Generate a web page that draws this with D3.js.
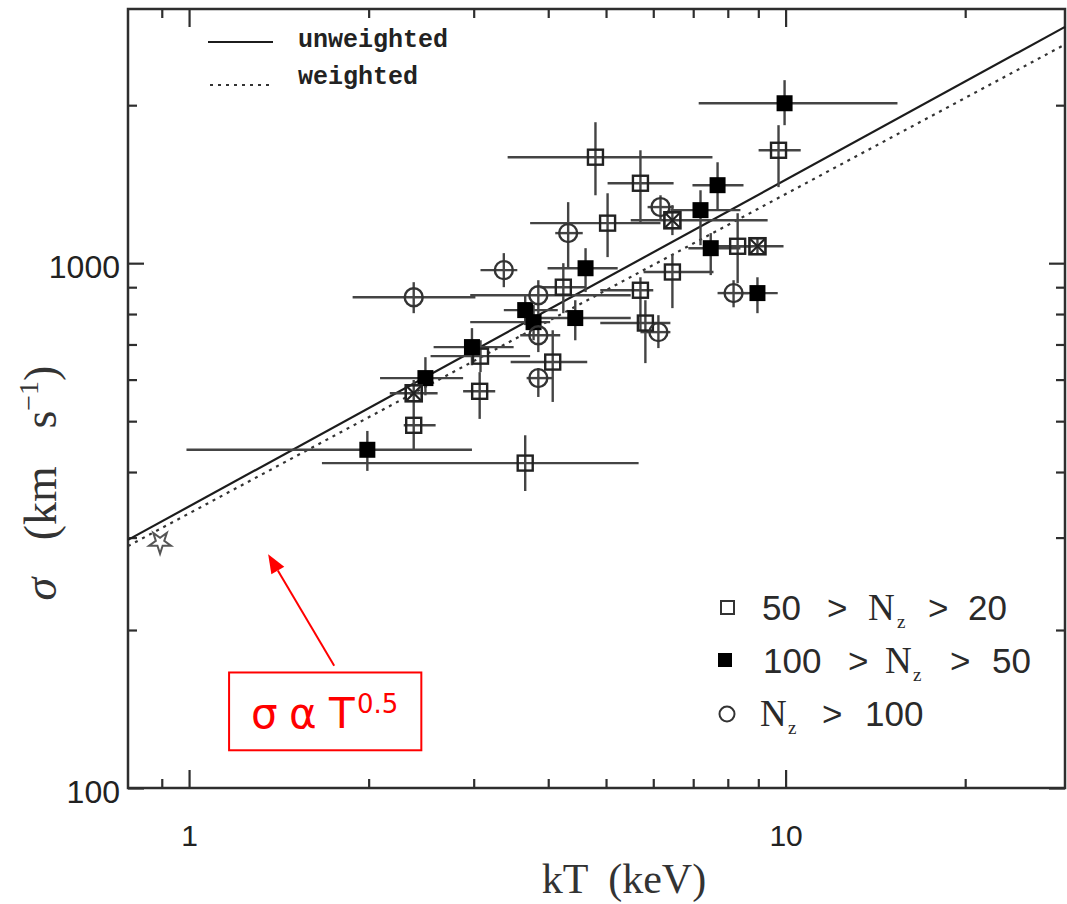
<!DOCTYPE html>
<html>
<head>
<meta charset="utf-8">
<script src="https://cdn.jsdelivr.net/npm/d3@7"></script>
<style>
  html, body { margin: 0; padding: 0; background: #fff; }
  svg { display: block; }
</style>
</head>
<body>
<svg id="chart" width="1067" height="904"></svg>
<script>
// Each row: [kT, kT low, kT high, sigma, sigma low, sigma high]  (keV, km/s)
const groupLow = [          // 50 > Nz > 20  (open squares)
  [4.80, 3.42, 7.54, 1592, 1347, 1856],
  [5.71, 5.03, 6.49, 1420, 1192, 1641],
  [5.03, 3.73, 6.17, 1192, 1027, 1359],
  [9.73, 9.01, 10.6, 1641, 1396, 1832],
  [6.46, 5.78, 7.57, 962, 821, 1040],
  [8.31, 7.63, 8.80, 1077, 916, 1245],
  [5.71, 4.89, 6.00, 888, 745, 940],
  [5.82, 4.89, 6.41, 769, 645, 850],
  [4.24, 3.88, 4.62, 900, 803, 1000],
  [3.08, 2.54, 3.73, 665, 620, 713],
  [3.07, 2.88, 3.26, 570, 505, 620],
  [2.38, 2.29, 2.59, 491, 439, 532],
  [3.66, 1.67, 5.67, 416, 368, 470],
  [4.07, 3.46, 4.65, 648, 544, 745]
];
const groupMid = [          // 100 > Nz > 50  (filled squares)
  [9.96, 7.15, 15.4, 2017, 1832, 2232],
  [7.49, 6.87, 8.40, 1068, 949, 1141],
  [7.69, 6.98, 8.50, 1408, 1262, 1557],
  [7.20, 6.41, 8.40, 1262, 1082, 1377],
  [8.97, 8.40, 9.70, 877, 803, 940],
  [4.62, 3.99, 5.23, 978, 881, 1068],
  [3.66, 3.37, 4.15, 814, 762, 869],
  [3.78, 2.96, 4.03, 772, 713, 832],
  [4.44, 3.88, 5.50, 786, 713, 850],
  [2.98, 2.57, 3.50, 692, 639, 752],
  [2.49, 2.09, 2.88, 604, 560, 662],
  [1.99, 0.99, 2.98, 441, 402, 479]
];
const groupHigh = [         // Nz > 100  (open circles)
  [6.17, 5.87, 6.49, 1279, 1207, 1347],
  [8.18, 7.69, 8.67, 877, 824, 928],
  [6.12, 5.71, 6.41, 739, 689, 796],
  [4.32, 4.11, 4.57, 1141, 983, 1307],
  [3.37, 3.08, 3.55, 970, 900, 1045],
  [2.38, 1.88, 3.02, 861, 803, 920],
  [3.85, 2.96, 5.50, 869, 779, 928],
  [3.85, 3.59, 4.19, 729, 677, 786],
  [3.85, 3.68, 4.07, 604, 556, 631]
];
const groupCrossed = [      // crossed squares
  [8.97, 8.25, 9.92, 1077, 1040, 1116],
  [6.46, 5.50, 9.33, 1207, 1131, 1290],
  [2.38, 2.17, 2.61, 565, 532, 599]
];
const starPoint = [[0.894, 294]];

// Fitted relations, given by their end points across the panel
const unweightedFit = [[0.79, 297], [29.4, 2820]];
const weightedFit   = [[0.79, 289], [29.4, 2610]];

// Axis ticks
const xMajorTicks = [1, 10];
const xMinorTicks = [0.9, 2, 3, 4, 5, 6, 7, 8, 9, 20];
const yMajorTicks = [100, 1000];
const yMinorTicks = [200, 300, 400, 500, 600, 700, 800, 900, 2000];

// Annotation (arrow tail, arrow tip, box corners) in data units
const noteArrow = [[1.751, 171], [1.357, 279]];
const noteBox = [[1.167, 166], [2.451, 118]];

const legendRows = [
  { label: ["50", ">", "N", "z", ">", "20"] },
  { label: ["100", ">", "N", "z", ">", "50"] },
  { label: ["N", "z", ">", "100"] }
];

// ---------------------------------------------------------------
const svg = d3.select("#chart");
const L = 128, R = 1065, T = 9, B = 788;
const x = d3.scaleLog().domain([0.79, 29.4]).range([L, R]);
const y = d3.scaleLog().domain([100, 3050]).range([B, T]);
const ink = "#2e2e2e";
const serif = "'Liberation Serif', 'DejaVu Serif', serif";
const sans = "'Liberation Sans', Arial, sans-serif";

// axes with inward ticks
function styleAxis(g) {
  g.select(".domain").remove();
  g.attr("color", ink);
  g.selectAll("line").attr("stroke-width", 2.2);
}
svg.append("g").attr("transform", `translate(0,${B})`)
  .call(d3.axisBottom(x).tickValues(xMajorTicks).tickSize(-18).tickPadding(37).tickFormat(d3.format("d")))
  .call(styleAxis)
  .call(g => g.selectAll("text").attr("font-size", 30).attr("font-family", sans).attr("fill", "#222"));
svg.append("g").attr("transform", `translate(0,${B})`)
  .call(d3.axisBottom(x).tickValues(xMinorTicks).tickSize(-9).tickFormat(""))
  .call(styleAxis);
svg.append("g").attr("transform", `translate(0,${T})`)
  .call(d3.axisTop(x).tickValues(xMajorTicks).tickSize(-18).tickFormat(""))
  .call(styleAxis);
svg.append("g").attr("transform", `translate(0,${T})`)
  .call(d3.axisTop(x).tickValues(xMinorTicks).tickSize(-9).tickFormat(""))
  .call(styleAxis);
svg.append("g").attr("transform", `translate(${L},0)`)
  .call(d3.axisLeft(y).tickValues(yMajorTicks).tickSize(-16).tickPadding(8).tickFormat(d3.format("d")))
  .call(styleAxis)
  .call(g => g.selectAll("text").attr("font-size", 32).attr("font-family", sans).attr("fill", "#222").attr("dy", "0.45em"));
svg.append("g").attr("transform", `translate(${L},0)`)
  .call(d3.axisLeft(y).tickValues(yMinorTicks).tickSize(-9).tickFormat(""))
  .call(styleAxis);
svg.append("g").attr("transform", `translate(${R},0)`)
  .call(d3.axisRight(y).tickValues(yMajorTicks).tickSize(-16).tickFormat(""))
  .call(styleAxis);
svg.append("g").attr("transform", `translate(${R},0)`)
  .call(d3.axisRight(y).tickValues(yMinorTicks).tickSize(-9).tickFormat(""))
  .call(styleAxis);

// frame
svg.append("rect").attr("x", L).attr("y", T).attr("width", R - L).attr("height", B - T)
  .attr("fill", "none").attr("stroke", ink).attr("stroke-width", 2.5);

// axis titles
svg.append("text").attr("x", 624).attr("y", 893).attr("text-anchor", "middle")
  .attr("font-family", serif).attr("font-size", 42).attr("fill", "#333")
  .attr("word-spacing", 10).text("kT (keV)");
const yt = svg.append("text").attr("transform", "translate(56,483) rotate(-90)")
  .attr("text-anchor", "middle").attr("font-family", serif).attr("font-size", 46)
  .attr("fill", "#333").attr("word-spacing", 26);
yt.append("tspan").attr("font-style", "italic").text("σ");
yt.append("tspan").text(" (km s");
yt.append("tspan").attr("font-size", 28).attr("dy", -18).text("−1");
yt.append("tspan").attr("dy", 18).text(")");

// fit lines
const line = d3.line().x(d => x(d[0])).y(d => y(d[1]));
svg.append("path").attr("d", line(unweightedFit)).attr("fill", "none")
  .attr("stroke", "#1c1c1c").attr("stroke-width", 2.2);
svg.append("path").attr("d", line(weightedFit)).attr("fill", "none")
  .attr("stroke", "#333").attr("stroke-width", 2.2).attr("stroke-dasharray", "3,5");

// error bars
const allGroups = [groupLow, groupMid, groupHigh, groupCrossed];
const bars = svg.append("g").attr("stroke", "#444").attr("stroke-width", 2.4);
allGroups.forEach(group => {
  group.forEach(d => {
    bars.append("line").attr("x1", x(d[1])).attr("x2", x(d[2])).attr("y1", y(d[3])).attr("y2", y(d[3]));
    bars.append("line").attr("x1", x(d[0])).attr("x2", x(d[0])).attr("y1", y(d[4])).attr("y2", y(d[5]));
  });
});

// markers
const mk = svg.append("g");
const sq = 15;
mk.selectAll(".open-sq").data(groupLow).join("rect")
  .attr("x", d => x(d[0]) - sq / 2).attr("y", d => y(d[3]) - sq / 2)
  .attr("width", sq).attr("height", sq)
  .attr("fill", "none").attr("stroke", "#222").attr("stroke-width", 2.4);
mk.selectAll(".fill-sq").data(groupMid).join("rect")
  .attr("x", d => x(d[0]) - 8).attr("y", d => y(d[3]) - 8)
  .attr("width", 16).attr("height", 16).attr("fill", "#000");
mk.selectAll(".open-ci").data(groupHigh).join("circle")
  .attr("cx", d => x(d[0])).attr("cy", d => y(d[3])).attr("r", 9)
  .attr("fill", "none").attr("stroke", "#333").attr("stroke-width", 2.4);
const crossed = mk.selectAll(".cross-sq").data(groupCrossed).join("g")
  .attr("transform", d => `translate(${x(d[0])},${y(d[3])})`);
crossed.append("rect").attr("x", -8).attr("y", -8).attr("width", 16).attr("height", 16)
  .attr("fill", "none").attr("stroke", "#222").attr("stroke-width", 2.6);
crossed.append("path").attr("d", "M-8,-8L8,8M8,-8L-8,8")
  .attr("stroke", "#222").attr("stroke-width", 2.2);
mk.selectAll(".star").data(starPoint).join("path")
  .attr("transform", d => `translate(${x(d[0])},${y(d[1])}) rotate(180)`)
  .attr("d", d3.symbol(d3.symbolStar, 150)())
  .attr("fill", "none").attr("stroke", "#555").attr("stroke-width", 2);

// top-left legend (fit lines)
const lg = svg.append("g");
lg.append("line").attr("x1", 208).attr("x2", 273).attr("y1", 42).attr("y2", 42)
  .attr("stroke", "#1c1c1c").attr("stroke-width", 2.2);
lg.append("line").attr("x1", 210).attr("x2", 273).attr("y1", 85).attr("y2", 85)
  .attr("stroke", "#333").attr("stroke-width", 2.2).attr("stroke-dasharray", "3,5");
lg.append("text").attr("x", 298).attr("y", 47).attr("font-family", "'Liberation Mono', 'DejaVu Sans Mono', monospace")
  .attr("font-weight", "bold").attr("font-size", 25).attr("fill", "#222").text("unweighted");
lg.append("text").attr("x", 298).attr("y", 84).attr("font-family", "'Liberation Mono', 'DejaVu Sans Mono', monospace")
  .attr("font-weight", "bold").attr("font-size", 25).attr("fill", "#222").text("weighted");

// bottom-right legend (richness classes)
const rowY = [620, 673, 726];
const rowX = [
  [762, 827, 868, 897, 928, 968],
  [763, 848, 885, 913, 950, 992],
  [760, 788, 822, 865]
];
const lg2 = svg.append("g");
lg2.append("rect").attr("x", 721).attr("y", rowY[0] - 19).attr("width", 13).attr("height", 13)
  .attr("fill", "none").attr("stroke", "#333").attr("stroke-width", 2);
lg2.append("rect").attr("x", 718).attr("y", rowY[1] - 20).attr("width", 14).attr("height", 14)
  .attr("fill", "#000");
lg2.append("circle").attr("cx", 727).attr("cy", rowY[2] - 12).attr("r", 7.5)
  .attr("fill", "none").attr("stroke", "#333").attr("stroke-width", 2);
legendRows.forEach((row, i) => {
  const t = lg2.append("text").attr("y", rowY[i]).attr("fill", "#2a2a2a");
  row.label.forEach((s, j) => {
    const isN = s === "N", isZ = s === "z";
    t.append("tspan").attr("x", rowX[i][j])
      .attr("y", isZ ? rowY[i] + 8 : rowY[i])
      .attr("font-family", isN || isZ ? serif : sans)
      .attr("font-size", isZ ? 19 : (isN ? 37 : 35))
      .text(s);
  });
});

// annotation
const red = "#ff0000";
const ann = svg.append("g");
const a0 = [x(noteArrow[0][0]), y(noteArrow[0][1])];
const a1 = [x(noteArrow[1][0]), y(noteArrow[1][1])];
const ang = Math.atan2(a1[1] - a0[1], a1[0] - a0[0]);
const hl = 19, hw = 7.5;
const base = [a1[0] - hl * Math.cos(ang), a1[1] - hl * Math.sin(ang)];
ann.append("line").attr("x1", a0[0]).attr("y1", a0[1]).attr("x2", base[0]).attr("y2", base[1])
  .attr("stroke", red).attr("stroke-width", 2);
ann.append("path").attr("d", `M${a1[0]},${a1[1]}L${base[0] + hw * Math.sin(ang)},${base[1] - hw * Math.cos(ang)}L${base[0] - hw * Math.sin(ang)},${base[1] + hw * Math.cos(ang)}Z`)
  .attr("fill", red);
const bx0 = x(noteBox[0][0]), by0 = y(noteBox[0][1]), bx1 = x(noteBox[1][0]), by1 = y(noteBox[1][1]);
ann.append("rect").attr("x", bx0).attr("y", by0).attr("width", bx1 - bx0).attr("height", by1 - by0)
  .attr("fill", "#fff").attr("stroke", red).attr("stroke-width", 2);
const at = ann.append("text").attr("y", 728).attr("fill", red).attr("font-family", "'DejaVu Sans', sans-serif");
at.append("tspan").attr("x", 251).attr("font-size", 42).text("σ");
at.append("tspan").attr("x", 289).attr("font-size", 42).text("α");
at.append("tspan").attr("x", 329).attr("font-size", 42).text("T");
at.append("tspan").attr("x", 357).attr("y", 713).attr("font-size", 26).text("0.5");
</script>
</body>
</html>
